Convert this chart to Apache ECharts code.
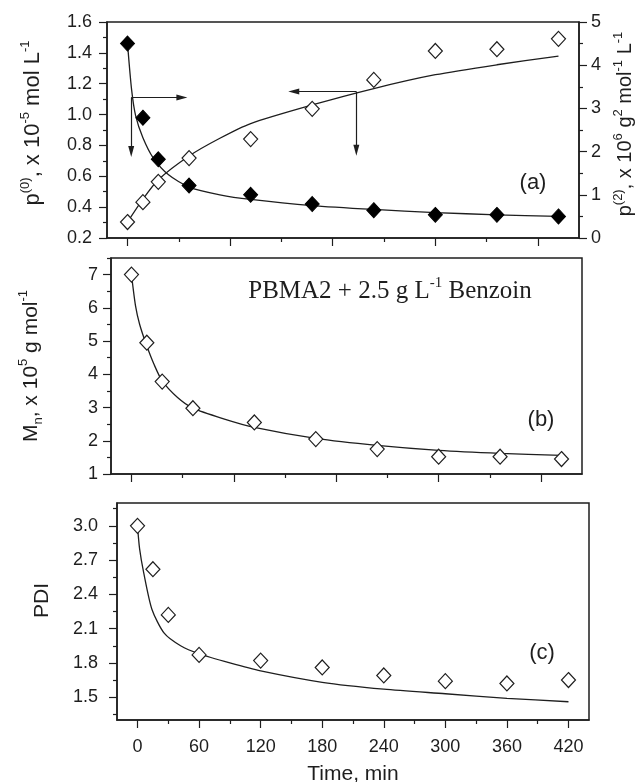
<!DOCTYPE html>
<html>
<head>
<meta charset="utf-8">
<title>PBMA2 + Benzoin</title>
<script src="https://cdn.jsdelivr.net/npm/echarts@6/dist/echarts.min.js"></script>
<style>
  html, body { margin: 0; padding: 0; background: #fff; }
  #main { width: 643px; height: 782px; }
</style>
</head>
<body>
<div id="main"></div>
<script>
// measured points (time in min)
var tPoints = [0, 15, 30, 60, 120, 180, 240, 300, 360, 420];
var p0Values = [1.46, 0.98, 0.71, 0.54, 0.48, 0.42, 0.38, 0.35, 0.35, 0.34];
var p2Values = [0.37, 0.83, 1.30, 1.85, 2.29, 2.99, 3.66, 4.33, 4.37, 4.61];
var mnValues = [7.0, 4.95, 3.78, 2.98, 2.55, 2.05, 1.75, 1.52, 1.52, 1.45];
var pdiValues = [3.0, 2.62, 2.22, 1.87, 1.82, 1.76, 1.69, 1.64, 1.62, 1.65];

// model curves
var p0FitT = [0, 4, 8, 15, 25, 40, 60, 90, 120, 180, 240, 300, 360, 420];
var p0FitV = [1.46, 1.16, 0.99, 0.85, 0.72, 0.61, 0.53, 0.48, 0.45, 0.41, 0.385, 0.365, 0.35, 0.34];
var p2FitT = [0, 15, 30, 60, 90, 120, 180, 240, 300, 360, 420];
var p2FitV = [0.37, 0.90, 1.35, 1.90, 2.31, 2.65, 3.08, 3.46, 3.78, 4.01, 4.21];
var mnFitT = [0, 4, 8, 15, 22, 30, 45, 60, 90, 120, 180, 240, 300, 360, 420];
var mnFitV = [7.0, 6.05, 5.5, 4.85, 4.3, 3.8, 3.3, 2.98, 2.66, 2.4, 2.07, 1.86, 1.71, 1.62, 1.56];
var pdiFitT = [0, 2, 6, 14, 26, 42, 60, 90, 120, 180, 240, 300, 360, 420];
var pdiFitV = [3.0, 2.8, 2.59, 2.27, 2.06, 1.95, 1.88, 1.80, 1.73, 1.63, 1.57, 1.53, 1.49, 1.46];

// tick positions
var timeMajorAB = [0, 100, 200, 300, 400];
var timeMinorAB = [50, 150, 250, 350];
var timeMajorC = [0, 60, 120, 180, 240, 300, 360, 420];
var timeMinorC = [30, 90, 150, 210, 270, 330, 390];
var p0Major = [0.2, 0.4, 0.6, 0.8, 1.0, 1.2, 1.4, 1.6];
var p0Minor = [0.3, 0.5, 0.7, 0.9, 1.1, 1.3, 1.5];
var p2Major = [0, 1, 2, 3, 4, 5];
var p2Minor = [0.5, 1.5, 2.5, 3.5, 4.5];
var mnMajor = [1, 2, 3, 4, 5, 6, 7];
var mnMinor = [1.5, 2.5, 3.5, 4.5, 5.5, 6.5, 7.5];
var pdiMajor = [1.5, 1.8, 2.1, 2.4, 2.7, 3.0];
var pdiMinor = [1.35, 1.65, 1.95, 2.25, 2.55, 2.85, 3.15];

(function () {
    'use strict';

    var FONT = '"Liberation Sans", Arial, sans-serif';
    var SERIF = '"Liberation Serif", "Times New Roman", serif';
    var INK = '#1e1e1e';

    var rich = {
        sup: { fontSize: 13, verticalAlign: 'top', lineHeight: 13, fontFamily: FONT, color: INK },
        sub: { fontSize: 13, verticalAlign: 'bottom', lineHeight: 13, fontFamily: FONT, color: INK }
    };

    function pairs(xs, ys) {
        return xs.map(function (x, i) { return [x, ys[i]]; });
    }

    function fixed1(v) { return v.toFixed(1); }

    // a labelled axis with long ticks plus a twin carrying the short ticks
    function axisPair(gridIndex, position, min, max, major, minor, extra) {
        var main = {
            type: 'value', gridIndex: gridIndex, position: position, min: min, max: max,
            splitLine: { show: false },
            axisLine: { show: true, onZero: false, lineStyle: { color: INK, width: 1.5 } },
            axisTick: { show: true, length: 8, customValues: major, lineStyle: { color: INK, width: 1.2 } },
            axisLabel: { show: false, customValues: major }
        };
        for (var k in extra) { main[k] = extra[k]; }
        var twin = {
            type: 'value', gridIndex: gridIndex, position: position, min: min, max: max,
            splitLine: { show: false },
            axisLine: { show: false, onZero: false },
            axisTick: { show: true, length: 4, customValues: minor, lineStyle: { color: INK, width: 1.2 } },
            axisLabel: { show: false }
        };
        return [main, twin];
    }

    function tickLabels(values, fmt, margin) {
        return {
            show: true, customValues: values, margin: margin, formatter: fmt,
            fontFamily: FONT, fontSize: 18, color: INK
        };
    }

    function nameStyle(size, padding) {
        return { fontFamily: FONT, fontSize: size, color: INK, lineHeight: 28, rich: rich, padding: padding };
    }

    var xAxes = [].concat(
        axisPair(0, 'bottom', -20, 440, timeMajorAB, timeMinorAB, {}),
        axisPair(1, 'bottom', -20, 440, timeMajorAB, timeMinorAB, {}),
        axisPair(2, 'bottom', -20, 440, timeMajorC, timeMinorC, {
            axisLabel: tickLabels(timeMajorC, null, 18),
            name: 'Time, min', nameLocation: 'middle', nameGap: 44,
            nameTextStyle: { fontFamily: FONT, fontSize: 21, color: INK }
        })
    );

    var yAxes = [].concat(
        axisPair(0, 'left', 0.2, 1.6, p0Major, p0Minor, {
            axisLabel: tickLabels(p0Major, fixed1, 15),
            name: 'p{sup|(0)}, x 10{sup|-5} mol L{sup|-1}', nameLocation: 'middle', nameRotate: 90,
            nameGap: 60, nameTextStyle: nameStyle(22, [0, 0, 0, 14])
        }),
        axisPair(0, 'right', 0, 5, p2Major, p2Minor, {
            axisLabel: tickLabels(p2Major, null, 12),
            name: 'p{sup|(2)}, x 10{sup|6} g{sup|2} mol{sup|-1} L{sup|-1}', nameLocation: 'middle', nameRotate: 90,
            nameGap: 32, nameTextStyle: nameStyle(20, [0, 0, 0, 12])
        }),
        axisPair(1, 'left', 1, 7.5, mnMajor, mnMinor, {
            axisLabel: tickLabels(mnMajor, null, 13),
            name: 'M{sub|n}, x 10{sup|5} g mol{sup|-1}', nameLocation: 'middle', nameRotate: 90,
            nameGap: 66, nameTextStyle: nameStyle(21, 0)
        }),
        axisPair(2, 'left', 1.3, 3.2, pdiMajor, pdiMinor, {
            axisLabel: tickLabels(pdiMajor, fixed1, 19),
            name: 'PDI', nameLocation: 'middle', nameRotate: 90,
            nameGap: 64, nameTextStyle: { fontFamily: FONT, fontSize: 21, color: INK, padding: [0, 0, 0, 22] }
        })
    );

    function fitLine(xi, yi, xs, ys, marks) {
        var s = {
            type: 'line', xAxisIndex: xi, yAxisIndex: yi, data: pairs(xs, ys),
            smooth: 0.25, showSymbol: false, silent: true, z: 2,
            lineStyle: { color: INK, width: 1.3 }
        };
        if (marks) {
            s.markLine = {
                silent: true, symbol: ['none', 'triangle'], symbolSize: [6, 11],
                label: { show: false },
                lineStyle: { color: INK, width: 1.2, type: 'solid' },
                data: marks
            };
        }
        return s;
    }

    function points(xi, yi, ys, filled) {
        return {
            type: 'scatter', xAxisIndex: xi, yAxisIndex: yi, data: pairs(tPoints, ys),
            symbol: 'diamond', symbolSize: [14, 15], z: 3, silent: true,
            itemStyle: filled
                ? { color: '#000', borderColor: '#000', borderWidth: 1, opacity: 1 }
                : { color: '#fff', borderColor: INK, borderWidth: 1.2, opacity: 1 }
        };
    }

    function panel(left, top, width, height) {
        return {
            left: left, top: top, width: width, height: height,
            outerBoundsMode: 'none', containLabel: false,
            show: true, borderColor: INK, borderWidth: 1.5
        };
    }

    var labelFont = '22px ' + FONT;

    var option = {
        animation: false,
        backgroundColor: '#fff',
        grid: [
            panel(107, 22, 472, 216),
            panel(111, 258, 471, 216),
            panel(117, 503, 472, 217)
        ],
        xAxis: xAxes,
        yAxis: yAxes,
        series: [
            fitLine(0, 0, p0FitT, p0FitV, [
                [{ coord: [3.6, 1.11] }, { coord: [3.6, 0.76] }],
                [{ coord: [3.6, 1.11] }, { coord: [53, 1.11] }]
            ]),
            points(0, 0, p0Values, true),
            fitLine(0, 2, p2FitT, p2FitV, [
                [{ coord: [223, 3.39] }, { coord: [162, 3.39] }],
                [{ coord: [223, 3.39] }, { coord: [223, 2.03] }]
            ]),
            points(0, 2, p2Values, false),
            fitLine(2, 4, mnFitT, mnFitV, null),
            points(2, 4, mnValues, false),
            fitLine(4, 6, pdiFitT, pdiFitV, null),
            points(4, 6, pdiValues, false)
        ],
        graphic: [
            { type: 'text', x: 533, y: 183, style: { text: '(a)', font: labelFont, fill: INK, align: 'center', verticalAlign: 'middle' } },
            { type: 'text', x: 541, y: 420, style: { text: '(b)', font: labelFont, fill: INK, align: 'center', verticalAlign: 'middle' } },
            { type: 'text', x: 542, y: 653, style: { text: '(c)', font: labelFont, fill: INK, align: 'center', verticalAlign: 'middle' } },
            {
                type: 'text', x: 390, y: 291,
                style: {
                    text: 'PBMA2 + 2.5 g L{s|-1} Benzoin', font: '25px ' + SERIF, fill: INK,
                    align: 'center', verticalAlign: 'middle', lineHeight: 30,
                    rich: { s: { fontSize: 15, fontFamily: SERIF, verticalAlign: 'top', lineHeight: 15, fill: INK } }
                }
            }
        ]
    };

    var chart = echarts.init(document.getElementById('main'), null, { renderer: 'canvas' });
    chart.setOption(option);
})();
</script>
</body>
</html>
